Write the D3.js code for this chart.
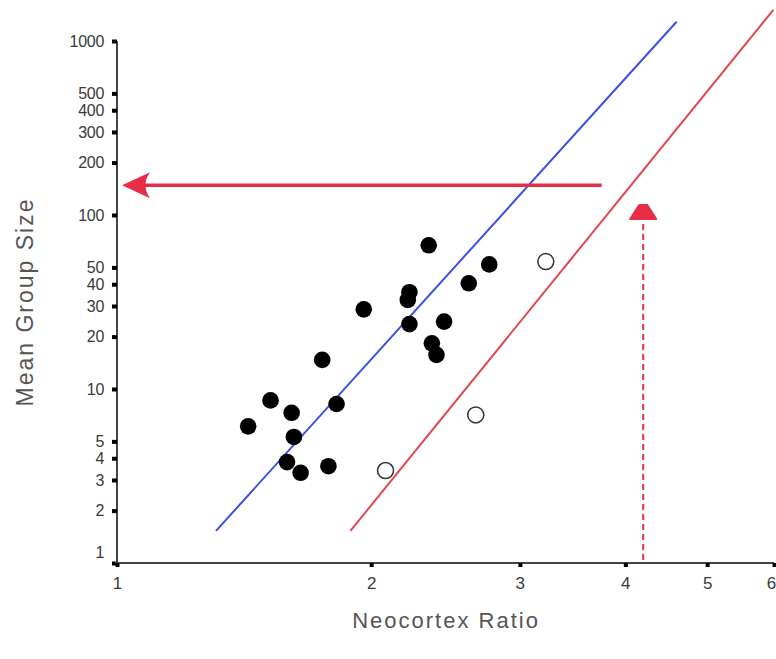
<!DOCTYPE html>
<html lang="en">
<head>
<meta charset="UTF-8">
<title>Neocortex Ratio vs Mean Group Size</title>
<script src="https://d3js.org/d3.v7.min.js"></script>
<style>
    html, body { margin: 0; padding: 0; background: #fff; }
    svg text { font-family: 'Liberation Sans', Arial, sans-serif; }
</style>
</head>
<body>
<div id="chart"></div>
<script>

// primates (filled) and apes (open)
var filledRatio = [2.34, 2.76, 2.61, 2.22, 2.21, 1.96, 2.22, 2.44, 2.36, 2.39, 1.75, 1.82, 1.52, 1.61, 1.43, 1.62, 1.59, 1.65, 1.78];
var filledGroup = [67, 52, 40.5, 36, 32.5, 28.7, 23.6, 24.4, 18.3, 15.7, 14.7, 8.2, 8.6, 7.3, 6.1, 5.3, 3.8, 3.3, 3.6];
var openRatio = [3.22, 2.66, 2.08];
var openGroup = [54, 7.1, 3.4];

// regression lines, [start, end] in data units
var blueLine = [[1.31, 1.53], [4.6, 1290]];
var redLine = [[1.89, 1.53], [5.99, 1510]];

// human prediction arrows
var humanRatio = 4.2;
var humanGroup = 148;
var hArrowFrom = 3.75;
var vArrowFrom = 1.04, vArrowTo = 114;

var xTicks = [1, 2, 3, 4, 5, 6];
var yTicks = [1, 2, 3, 4, 5, 10, 20, 30, 40, 50, 100, 200, 300, 400, 500, 1000];

var width = 776, height = 659;

var svg = d3.select('#chart')
    .append('svg')
    .attr('width', width)
    .attr('height', height);

var x = d3.scaleLog().domain([1, 6]).range([117, 774]);
var y = d3.scaleLog().domain([1, 1000]).range([563, 41]);

// y axis
var yAxis = d3.axisLeft(y)
    .tickValues(yTicks)
    .tickFormat(d3.format('d'))
    .tickSize(5)
    .tickPadding(6);

var gy = svg.append('g')
    .attr('transform', 'translate(' + x(1) + ',0)')
    .call(yAxis);
gy.select('.domain').attr('stroke', '#444').attr('stroke-width', 2).attr('d', 'M0,' + y(1000) + 'V' + (y(1) + 1));
gy.selectAll('.tick line').attr('stroke', '#000').attr('stroke-width', 4);
gy.selectAll('.tick text')
    .attr('fill', '#3a3a3a')
    .style('font-size', '16px')
    .style('letter-spacing', '-0.3px')
    .attr('dx', '-2');
gy.selectAll('.tick text').filter(function(d) { return d == 1; }).attr('dy', '-0.35em');

// x axis
var xAxis = d3.axisBottom(x)
    .tickValues(xTicks)
    .tickFormat(d3.format('d'))
    .tickSize(4)
    .tickPadding(10);

var gx = svg.append('g')
    .attr('transform', 'translate(0,' + y(1) + ')')
    .call(xAxis);
gx.select('.domain').attr('stroke', '#444').attr('stroke-width', 2).attr('d', 'M' + (x(1) - 2) + ',0H' + x(6));
gx.selectAll('.tick line').attr('stroke', '#000').attr('stroke-width', 4);
gx.selectAll('.tick text')
    .attr('fill', '#3a3a3a')
    .style('font-size', '17px');
gx.selectAll('.tick text').filter(function(d) { return d == 6; }).attr('dx', '-3');

// axis titles
svg.append('text')
    .attr('x', 446)
    .attr('y', 628)
    .attr('text-anchor', 'middle')
    .attr('fill', '#555')
    .style('font-size', '22px')
    .style('letter-spacing', '2px')
    .text('Neocortex Ratio');

svg.append('text')
    .attr('transform', 'translate(33,302) rotate(-90)')
    .attr('text-anchor', 'middle')
    .attr('fill', '#555')
    .style('font-size', '23px')
    .style('letter-spacing', '2px')
    .text('Mean Group Size');

// regression lines
var line = d3.line()
    .x(function(d) { return x(d[0]); })
    .y(function(d) { return y(d[1]); });

svg.append('path')
    .datum(blueLine)
    .attr('d', line)
    .attr('fill', 'none')
    .attr('stroke', '#3b4ee6')
    .attr('stroke-width', 2);

svg.append('path')
    .datum(redLine)
    .attr('d', line)
    .attr('fill', 'none')
    .attr('stroke', '#e0474f')
    .attr('stroke-width', 2);

// points
svg.selectAll('.filled')
    .data(filledRatio)
    .enter()
    .append('circle')
    .attr('class', 'filled')
    .attr('cx', function(d) { return x(d); })
    .attr('cy', function(d, i) { return y(filledGroup[i]); })
    .attr('r', 8.3)
    .attr('fill', '#000');

svg.selectAll('.open')
    .data(openRatio)
    .enter()
    .append('circle')
    .attr('class', 'open')
    .attr('cx', function(d) { return x(d); })
    .attr('cy', function(d, i) { return y(openGroup[i]); })
    .attr('r', 8)
    .attr('fill', '#fff')
    .attr('stroke', '#333')
    .attr('stroke-width', 1.5);

// horizontal arrow
var arrowRed = '#e62e48';
var hy = y(humanGroup);
svg.append('line')
    .attr('x1', x(hArrowFrom))
    .attr('x2', x(1) + 25)
    .attr('y1', hy)
    .attr('y2', hy)
    .attr('stroke', arrowRed)
    .attr('stroke-width', 3.5);
svg.append('path')
    .attr('d', 'M' + (x(1) + 5) + ',' + hy +
        'L' + (x(1) + 33) + ',' + (hy - 13) +
        'Q' + (x(1) + 24) + ',' + hy + ' ' + (x(1) + 33) + ',' + (hy + 13) + 'Z')
    .attr('fill', arrowRed);

// vertical dashed arrow
var vx = x(humanRatio);
svg.append('line')
    .attr('x1', vx)
    .attr('x2', vx)
    .attr('y1', y(vArrowFrom))
    .attr('y2', y(vArrowTo) + 12)
    .attr('stroke', arrowRed)
    .attr('stroke-width', 2)
    .attr('stroke-dasharray', '6,4');
var vt = y(vArrowTo);
svg.append('path')
    .attr('d', 'M' + (vx - 4) + ',' + vt + 'L' + (vx + 4) + ',' + vt +
        'L' + (vx + 13) + ',' + (vt + 14) + 'L' + (vx - 13) + ',' + (vt + 14) + 'Z')
    .attr('fill', arrowRed)
    .attr('stroke', arrowRed)
    .attr('stroke-linejoin', 'round')
    .attr('stroke-width', 2);

</script>
</body>
</html>
